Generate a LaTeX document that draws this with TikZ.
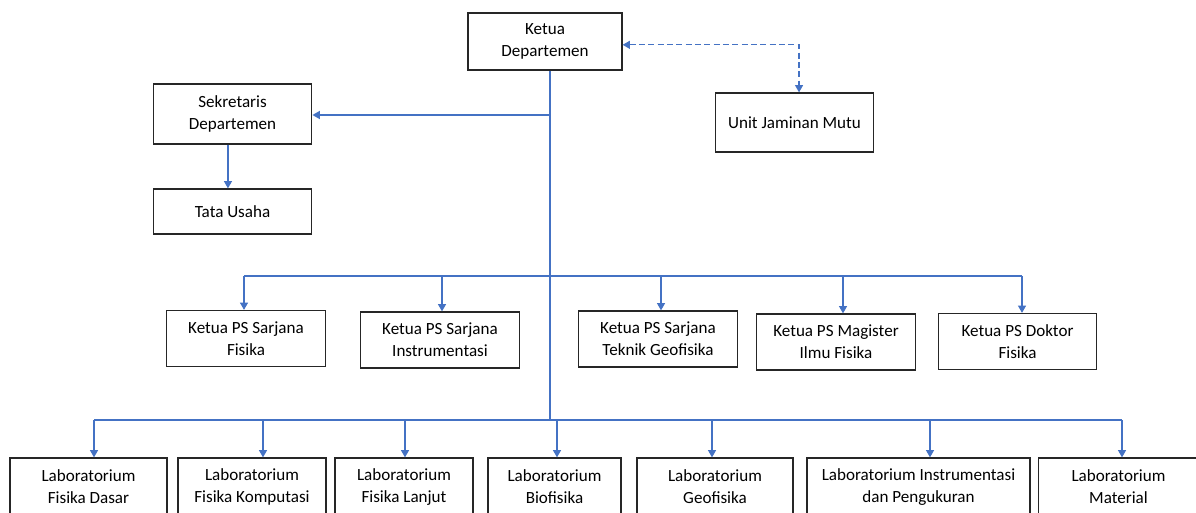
\documentclass[tikz,border=0pt]{standalone}
\usepackage{fontspec}
\setmainfont{Carlito}
\usetikzlibrary{arrows.meta}
\definecolor{lineblue}{RGB}{68,114,196}
\begin{document}
\begin{tikzpicture}[
    x=0.75pt, y=-0.75pt,
    box/.style={rectangle, draw=black!85, line width=0.9pt, minimum width=119pt, minimum height=42pt, align=center, inner sep=2pt, font=\fontsize{12.8}{16.5}\selectfont},
    lab/.style={box, minimum height=43.5pt},
    line/.style={draw=lineblue, line width=1pt},
    arrow/.style={line, -{Triangle[width=6pt,length=5.5pt]}},
    dasharrow/.style={line, dash pattern=on 4.5pt off 2.5pt, {Triangle[width=6pt,length=5.5pt]}-{Triangle[width=6pt,length=5.5pt]}}
]
\useasboundingbox (0,0) rectangle (1196,513);
\clip (0,0) rectangle (1196,513);

% Pimpinan
\node[box, minimum width=115.5pt, minimum height=42.75pt] (ketua) at (545,41.5) {Ketua\\Departemen};
\node[box, minimum height=45pt] (sekretaris) at (232.5,114) {Sekretaris\\Departemen};
\node[box, minimum height=33.75pt] (tu) at (232.5,211.5) {Tata Usaha};
\node[box, minimum height=44.25pt] (ujm) at (794.5,122.5) {Unit Jaminan Mutu};

% Program studi
\node[box] (psfis) at (246,338.5) {Ketua PS Sarjana\\Fisika};
\node[box] (psins) at (440,340) {Ketua PS Sarjana\\Instrumentasi};
\node[box] (psgeo) at (658,339) {Ketua PS Sarjana\\Teknik Geofisika};
\node[box] (psmag) at (836,342) {Ketua PS Magister\\Ilmu Fisika};
\node[box] (psdok) at (1017.5,341.5) {Ketua PS Doktor\\Fisika};

% Laboratorium
\node[lab, minimum width=117.75pt] (labdas) at (88.5,487) {Laboratorium\\Fisika Dasar};
\node[lab, minimum width=111pt] (labkom) at (252,487) {Laboratorium\\Fisika Komputasi};
\node[lab, minimum width=103.5pt] (lablan) at (404,487) {Laboratorium\\Fisika Lanjut};
\node[lab, minimum width=99.75pt] (labbio) at (554.5,487) {Laboratorium\\Biofisika};
\node[lab, minimum width=117pt] (labgeo) at (715,487) {Laboratorium\\Geofisika};
\node[lab, minimum width=167.25pt] (labins) at (918.5,487) {Laboratorium Instrumentasi\\dan Pengukuran};
\node[lab, minimum width=120pt] (labmat) at (1118.5,487) {Laboratorium\\Material};

% Titik cabang
\coordinate (sekbus) at (550,115);
\coordinate (psbus) at (550,276);
\coordinate (labbus) at (550,420);
\coordinate (p1) at (244,276);
\coordinate (p2) at (442,276);
\coordinate (p3) at (661,276);
\coordinate (p4) at (843,276);
\coordinate (p5) at (1022,276);
\coordinate (l1) at (94,420);
\coordinate (l2) at (263,420);
\coordinate (l3) at (405,420);
\coordinate (l4) at (557,420);
\coordinate (l5) at (712,420);
\coordinate (l6) at (930,420);
\coordinate (l7) at (1122,420);

% Garis
\draw[line] (ketua.south -| sekbus) -- (labbus);
\draw[arrow] (sekbus) -- (sekretaris.east |- sekbus);
\draw[arrow] ([xshift=-3.4pt]sekretaris.south) -- ([xshift=-3.4pt]tu.north);
\draw[dasharrow] ([yshift=-2.5pt]ketua.east) -| ([xshift=3.4pt]ujm.north);

\draw[line] (p1) -- (p5);
\draw[arrow] (p1) -- (p1 |- psfis.north);
\draw[arrow] (p2) -- (p2 |- psins.north);
\draw[arrow] (p3) -- (p3 |- psgeo.north);
\draw[arrow] (p4) -- (p4 |- psmag.north);
\draw[arrow] (p5) -- (p5 |- psdok.north);

\draw[line] (l1) -- (l7);
\draw[arrow] (l1) -- (l1 |- labdas.north);
\draw[arrow] (l2) -- (l2 |- labkom.north);
\draw[arrow] (l3) -- (l3 |- lablan.north);
\draw[arrow] (l4) -- (l4 |- labbio.north);
\draw[arrow] (l5) -- (l5 |- labgeo.north);
\draw[arrow] (l6) -- (l6 |- labins.north);
\draw[arrow] (l7) -- (l7 |- labmat.north);

\end{tikzpicture}
\end{document}
